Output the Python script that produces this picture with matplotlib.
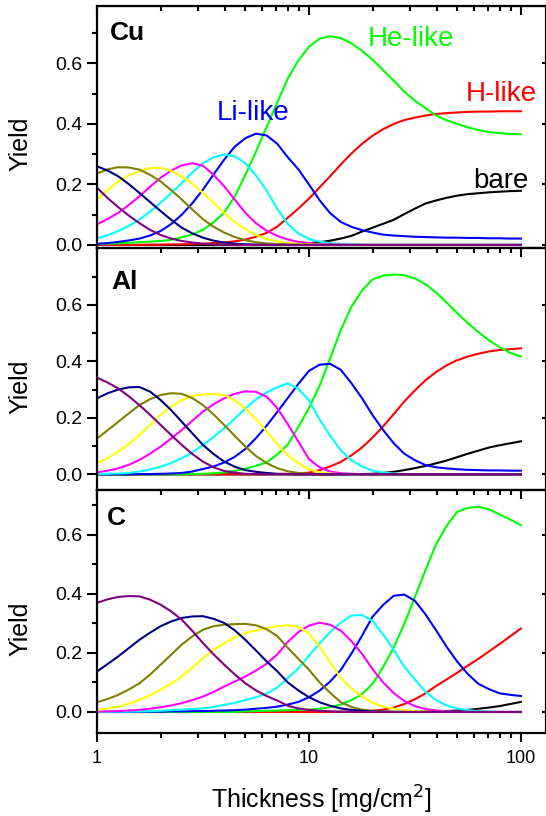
import matplotlib
matplotlib.use("Agg")
import matplotlib.pyplot as plt
from matplotlib.ticker import FixedLocator, LogLocator, NullFormatter

plt.rcParams['font.family'] = ['Liberation Sans', 'DejaVu Sans']

# thickness grid [mg/cm^2]
thickness = [1.0, 1.122, 1.259, 1.413, 1.585, 1.778, 1.995, 2.239, 2.512, 2.818,
             3.162, 3.548, 3.981, 4.467, 5.012, 5.623, 6.31, 7.079, 7.943, 8.913,
             10.0, 11.22, 12.59, 14.13, 15.85, 17.78, 19.95, 22.39, 25.12, 28.18,
             31.62, 35.48, 39.81, 44.67, 50.12, 56.23, 63.1, 70.79, 79.43, 89.13, 100.0]

# charge state yields, Cu target
cu_bare = [0, 0, 0, 0, 0, 0, 0, 0, 0, 0, 0, 0, 0, 0, 0, 0, 0, 0.001, 0.002, 0.004, 0.006,
           0.009, 0.014, 0.021, 0.03, 0.044, 0.057, 0.07, 0.083, 0.102, 0.12,
           0.137, 0.147, 0.156, 0.163, 0.168, 0.171, 0.174, 0.176, 0.178, 0.179]
cu_h = [0, 0, 0, 0, 0, 0.001, 0.001, 0.002, 0.002, 0.003, 0.004,
        0.006, 0.008, 0.012, 0.018, 0.027, 0.04, 0.06, 0.09, 0.12, 0.153,
        0.19, 0.227, 0.266, 0.302, 0.334, 0.361, 0.383, 0.40, 0.413, 0.421,
        0.428, 0.433, 0.436, 0.438, 0.44, 0.441, 0.441, 0.442, 0.442, 0.442]
cu_he = [0.003, 0.004, 0.005, 0.007, 0.009, 0.011, 0.013, 0.017, 0.025, 0.035, 0.05,
         0.075, 0.107, 0.16, 0.232, 0.308, 0.39, 0.47, 0.55, 0.61, 0.655,
         0.682, 0.69, 0.684, 0.667, 0.642, 0.613, 0.578, 0.543, 0.507, 0.477,
         0.452, 0.428, 0.412, 0.40, 0.389, 0.38, 0.373, 0.37, 0.367, 0.366]
cu_li = [0.004, 0.006, 0.01, 0.015, 0.021, 0.031, 0.046, 0.069, 0.1, 0.138, 0.183,
         0.233, 0.282, 0.325, 0.353, 0.368, 0.362, 0.335, 0.29, 0.25, 0.20,
         0.148, 0.105, 0.076, 0.06, 0.049, 0.041, 0.034, 0.031, 0.029, 0.027,
         0.026, 0.025, 0.024, 0.024, 0.023, 0.023, 0.022, 0.022, 0.021, 0.021]
cu_be = [0.021, 0.032, 0.046, 0.063, 0.084, 0.11, 0.139, 0.172, 0.205, 0.24, 0.27,
         0.29, 0.299, 0.293, 0.27, 0.23, 0.18, 0.12, 0.07, 0.038, 0.02,
         0.011, 0.006, 0.003, 0.002, 0.001, 0, 0, 0, 0, 0,
         0, 0, 0, 0, 0, 0, 0, 0, 0, 0]
cu_b = [0.068, 0.086, 0.106, 0.132, 0.161, 0.192, 0.222, 0.246, 0.263, 0.27, 0.262,
        0.232, 0.194, 0.15, 0.106, 0.072, 0.047, 0.03, 0.018, 0.01, 0.006,
        0.003, 0.002, 0.001, 0, 0, 0, 0, 0, 0, 0,
        0, 0, 0, 0, 0, 0, 0, 0, 0, 0]
cu_c = [0.15, 0.182, 0.21, 0.23, 0.244, 0.254, 0.255, 0.245, 0.227, 0.202, 0.172,
        0.14, 0.106, 0.076, 0.052, 0.033, 0.02, 0.012, 0.006, 0.003, 0.002,
        0.001, 0, 0, 0, 0, 0, 0, 0, 0, 0,
        0, 0, 0, 0, 0, 0, 0, 0, 0, 0]
cu_n = [0.236, 0.25, 0.257, 0.256, 0.249, 0.232, 0.21, 0.181, 0.15, 0.117, 0.085,
        0.06, 0.041, 0.026, 0.016, 0.009, 0.005, 0.003, 0.001, 0, 0,
        0, 0, 0, 0, 0, 0, 0, 0, 0, 0,
        0, 0, 0, 0, 0, 0, 0, 0, 0, 0]
cu_o = [0.26, 0.246, 0.227, 0.201, 0.172, 0.142, 0.112, 0.083, 0.057, 0.038, 0.024,
        0.014, 0.008, 0.004, 0.002, 0.001, 0, 0, 0, 0, 0,
        0, 0, 0, 0, 0, 0, 0, 0, 0, 0,
        0, 0, 0, 0, 0, 0, 0, 0, 0, 0]
cu_f = [0.189, 0.155, 0.125, 0.097, 0.072, 0.05, 0.033, 0.021, 0.013, 0.008, 0.004,
        0.002, 0.001, 0, 0, 0, 0, 0, 0, 0, 0,
        0, 0, 0, 0, 0, 0, 0, 0, 0, 0,
        0, 0, 0, 0, 0, 0, 0, 0, 0, 0]

# Al target
al_bare = [0, 0, 0, 0, 0, 0, 0, 0, 0, 0, 0,
           0, 0, 0, 0, 0, 0, 0, 0, 0, 0,
           0, 0, 0, 0.001, 0.001, 0.002, 0.005, 0.009, 0.015, 0.022,
           0.03, 0.039, 0.049, 0.061, 0.073, 0.084, 0.095, 0.103, 0.11, 0.117]
al_h = [0, 0, 0, 0, 0, 0, 0, 0, 0, 0, 0,
        0, 0, 0, 0, 0, 0.001, 0.001, 0.002, 0.003, 0.006,
        0.015, 0.028, 0.044, 0.067, 0.095, 0.13, 0.17, 0.213, 0.258, 0.297,
        0.333, 0.362, 0.386, 0.404, 0.417, 0.427, 0.435, 0.44, 0.443, 0.446]
al_he = [0, 0, 0, 0, 0, 0, 0, 0, 0, 0.001, 0.002,
         0.004, 0.007, 0.012, 0.02, 0.03, 0.042, 0.07, 0.105, 0.168, 0.235,
         0.313, 0.41, 0.51, 0.593, 0.65, 0.69, 0.703, 0.707, 0.705, 0.693,
         0.673, 0.643, 0.608, 0.57, 0.535, 0.503, 0.474, 0.45, 0.43, 0.417]
al_li = [0, 0, 0, 0, 0.001, 0.001, 0.002, 0.003, 0.005, 0.01, 0.019,
         0.028, 0.042, 0.062, 0.09, 0.128, 0.172, 0.22, 0.27, 0.32, 0.366,
         0.388, 0.391, 0.37, 0.323, 0.27, 0.21, 0.157, 0.11, 0.073, 0.05,
         0.033, 0.025, 0.021, 0.018, 0.016, 0.015, 0.014, 0.014, 0.013, 0.013]
al_be = [0.001, 0.002, 0.003, 0.005, 0.01, 0.017, 0.027, 0.04, 0.057, 0.078, 0.104,
         0.132, 0.163, 0.197, 0.233, 0.265, 0.29, 0.308, 0.322, 0.303, 0.262,
         0.195, 0.137, 0.085, 0.05, 0.028, 0.013, 0.007, 0.003, 0.001, 0,
         0, 0, 0, 0, 0, 0, 0, 0, 0, 0]
al_b = [0.007, 0.013, 0.021, 0.034, 0.051, 0.073, 0.098, 0.127, 0.157, 0.19, 0.222,
        0.248, 0.269, 0.285, 0.294, 0.292, 0.275, 0.235, 0.178, 0.116, 0.054,
        0.025, 0.01, 0.004, 0.002, 0.001, 0, 0, 0, 0, 0,
        0, 0, 0, 0, 0, 0, 0, 0, 0, 0]
al_c = [0.039, 0.057, 0.08, 0.108, 0.139, 0.174, 0.21, 0.24, 0.263, 0.277, 0.283,
        0.284, 0.281, 0.262, 0.233, 0.195, 0.153, 0.108, 0.067, 0.04, 0.017,
        0.008, 0.003, 0.001, 0, 0, 0, 0, 0, 0, 0,
        0, 0, 0, 0, 0, 0, 0, 0, 0, 0]
al_n = [0.127, 0.156, 0.186, 0.216, 0.245, 0.266, 0.281, 0.287, 0.285, 0.27, 0.245,
        0.212, 0.175, 0.136, 0.098, 0.065, 0.04, 0.022, 0.011, 0.005, 0.002,
        0.001, 0, 0, 0, 0, 0, 0, 0, 0, 0,
        0, 0, 0, 0, 0, 0, 0, 0, 0, 0]
al_o = [0.269, 0.287, 0.30, 0.308, 0.309, 0.293, 0.263, 0.227, 0.186, 0.145, 0.104,
        0.072, 0.045, 0.027, 0.015, 0.009, 0.005, 0.002, 0.001, 0, 0,
        0, 0, 0, 0, 0, 0, 0, 0, 0, 0,
        0, 0, 0, 0, 0, 0, 0, 0, 0, 0]
al_f = [0.342, 0.325, 0.304, 0.276, 0.245, 0.211, 0.175, 0.139, 0.104, 0.072, 0.045,
        0.025, 0.012, 0.006, 0.002, 0.001, 0, 0, 0, 0, 0,
        0, 0, 0, 0, 0, 0, 0, 0, 0, 0,
        0, 0, 0, 0, 0, 0, 0, 0, 0, 0]

# C target
c_bare = [0, 0, 0, 0, 0, 0, 0, 0, 0, 0, 0,
          0, 0, 0, 0, 0, 0, 0, 0, 0, 0,
          0, 0, 0, 0, 0, 0, 0, 0, 0, 0.001,
          0.001, 0.002, 0.003, 0.005, 0.007, 0.011, 0.015, 0.02, 0.027, 0.034]
c_h = [0, 0, 0, 0, 0, 0, 0, 0, 0, 0, 0,
       0, 0, 0, 0, 0, 0, 0, 0, 0, 0,
       0, 0, 0.001, 0.001, 0.002, 0.004, 0.008, 0.015, 0.027, 0.043,
       0.063, 0.088, 0.11, 0.133, 0.157, 0.18, 0.205, 0.23, 0.256, 0.282]
c_he = [0, 0, 0, 0, 0, 0, 0, 0, 0, 0, 0,
        0, 0, 0, 0.002, 0.003, 0.004, 0.005, 0.006, 0.007, 0.008,
        0.011, 0.016, 0.025, 0.04, 0.06, 0.095, 0.152, 0.218, 0.298, 0.389,
        0.48, 0.567, 0.63, 0.677, 0.69, 0.694, 0.685, 0.668, 0.651, 0.632]
c_li = [0, 0, 0, 0, 0.001, 0.001, 0.001, 0.002, 0.002, 0.003, 0.003,
        0.004, 0.005, 0.006, 0.008, 0.011, 0.014, 0.018, 0.025, 0.034, 0.05,
        0.072, 0.103, 0.142, 0.197, 0.257, 0.322, 0.362, 0.393, 0.397, 0.376,
        0.33, 0.276, 0.22, 0.17, 0.128, 0.095, 0.077, 0.063, 0.058, 0.054]
c_be = [0, 0, 0.001, 0.001, 0.002, 0.003, 0.004, 0.006, 0.008, 0.01, 0.012,
        0.017, 0.024, 0.031, 0.04, 0.05, 0.062, 0.082, 0.115, 0.147, 0.19,
        0.232, 0.27, 0.302, 0.326, 0.328, 0.308, 0.262, 0.21, 0.153, 0.11,
        0.068, 0.04, 0.022, 0.012, 0.006, 0.003, 0.001, 0, 0, 0]
c_b = [0.001, 0.002, 0.003, 0.005, 0.007, 0.011, 0.016, 0.022, 0.03, 0.04, 0.052,
       0.068, 0.086, 0.103, 0.12, 0.14, 0.163, 0.194, 0.237, 0.27, 0.292,
       0.302, 0.295, 0.275, 0.24, 0.197, 0.145, 0.1, 0.064, 0.037, 0.02,
       0.01, 0.005, 0.002, 0.001, 0, 0, 0, 0, 0, 0]
c_c = [0.007, 0.012, 0.018, 0.028, 0.041, 0.056, 0.075, 0.096, 0.12, 0.15, 0.182,
       0.21, 0.233, 0.252, 0.267, 0.276, 0.284, 0.29, 0.293, 0.289, 0.265,
       0.222, 0.168, 0.115, 0.08, 0.053, 0.031, 0.018, 0.011, 0.006, 0.003,
       0.001, 0, 0, 0, 0, 0, 0, 0, 0, 0]
c_n = [0.033, 0.044, 0.058, 0.076, 0.097, 0.126, 0.16, 0.194, 0.228, 0.256, 0.278,
       0.29, 0.295, 0.297, 0.298, 0.293, 0.28, 0.257, 0.217, 0.18, 0.143,
       0.1, 0.065, 0.033, 0.017, 0.008, 0.004, 0.002, 0.001, 0, 0,
       0, 0, 0, 0, 0, 0, 0, 0, 0, 0]
c_o = [0.137, 0.162, 0.188, 0.216, 0.244, 0.268, 0.29, 0.306, 0.318, 0.323, 0.324,
       0.315, 0.301, 0.276, 0.244, 0.208, 0.171, 0.138, 0.1, 0.073, 0.05,
       0.033, 0.021, 0.012, 0.007, 0.004, 0.002, 0.001, 0, 0, 0,
       0, 0, 0, 0, 0, 0, 0, 0, 0, 0]
c_f = [0.369, 0.381, 0.389, 0.392, 0.391, 0.38, 0.363, 0.34, 0.312, 0.274, 0.233,
       0.195, 0.16, 0.127, 0.097, 0.073, 0.054, 0.039, 0.021, 0.012, 0.007,
       0.004, 0.002, 0.001, 0, 0, 0, 0, 0, 0, 0,
       0, 0, 0, 0, 0, 0, 0, 0, 0, 0]

colors = ['#000000', '#FF0000', '#00FF00', '#0000FF', '#00FFFF',
          '#FF00FF', '#FFFF00', '#808000', '#000080', '#800080']

panels = [
    ('Cu', [cu_bare, cu_h, cu_he, cu_li, cu_be, cu_b, cu_c, cu_n, cu_o, cu_f], (-0.011, 0.79), 0.029, 0.86),
    ('Al', [al_bare, al_h, al_he, al_li, al_be, al_b, al_c, al_n, al_o, al_f], (-0.057, 0.80), 0.031, 0.833),
    ('C', [c_bare, c_h, c_he, c_li, c_be, c_b, c_c, c_n, c_o, c_f], (-0.070, 0.749), 0.022, 0.856),
]

y_ticks = [0.0, 0.2, 0.4, 0.6]
y_ticklabels = ['0.0', '0.2', '0.4', '0.6']
x_ticks = [1, 10, 100]
x_ticklabels = ['1', '10', '100']

fig, axes = plt.subplots(3, 1, figsize=(5.46, 8.16), dpi=100, sharex=True)
fig.subplots_adjust(left=0.1777, right=0.9995, top=0.9926, bottom=0.1021, hspace=0)

for ax, (name, series, ylim, tx, ty) in zip(axes, panels):
    for ys, c in zip(series, colors):
        ax.plot(thickness, ys, color=c, lw=1.5)
    ax.set_xscale('log')
    ax.set_xlim(1, 131)
    ax.set_ylim(*ylim)
    ax.set_yticks(y_ticks)
    ax.set_yticklabels(y_ticklabels)
    ax.yaxis.set_minor_locator(FixedLocator([0.1, 0.3, 0.5, 0.7]))
    ax.xaxis.set_major_locator(FixedLocator(x_ticks))
    ax.xaxis.set_minor_locator(LogLocator(base=10, subs=range(2, 10)))
    ax.xaxis.set_minor_formatter(NullFormatter())
    for s in ax.spines.values():
        s.set_linewidth(1.6)
    ax.tick_params(axis='y', which='major', direction='out', length=7, width=1.5, labelsize=14, pad=3.5)
    ax.tick_params(axis='y', which='minor', direction='out', length=3.5, width=1.5)
    ax.tick_params(axis='x', which='major', direction='out', length=6.5, width=1.5, labelsize=13, pad=6)
    ax.tick_params(axis='x', which='minor', direction='out', length=3.5, width=1.5)
    ax.set_ylabel('Yield', fontsize=18)
    ax.yaxis.set_label_coords(-0.143, 0.43)
    ax.text(tx, ty, name, transform=ax.transAxes, fontsize=19, fontweight='bold', va='baseline')
    # right axis: short inward major ticks only
    ax2 = ax.secondary_yaxis('right')
    ax2.set_yticks(y_ticks)
    ax2.set_yticklabels([])
    ax2.tick_params(direction='in', length=3, width=1.5)
    # top ticks point into the panel
    ax3 = ax.secondary_xaxis('top')
    ax3.set_xticks(x_ticks)
    ax3.set_xticklabels([])
    ax3.xaxis.set_minor_locator(LogLocator(base=10, subs=range(2, 10)))
    ax3.xaxis.set_minor_formatter(NullFormatter())
    ax3.tick_params(which='major', direction='in', length=6.5, width=1.5)
    ax3.tick_params(which='minor', direction='in', length=3.5, width=1.5)

axes[2].set_xticklabels(x_ticklabels)
axes[2].set_xlabel('Thickness [mg/cm$^2$]', fontsize=18, labelpad=12)

top = axes[0]
top.text(3.68, 0.412, 'Li-like', color='#0000FF', fontsize=20)
top.text(18.98, 0.659, 'He-like', color='#00FF00', fontsize=20)
top.text(55.0, 0.475, 'H-like', color='#FF0000', fontsize=20)
top.text(59.4, 0.187, 'bare', color='#000000', fontsize=20)

plt.savefig('out.png', dpi=100)
